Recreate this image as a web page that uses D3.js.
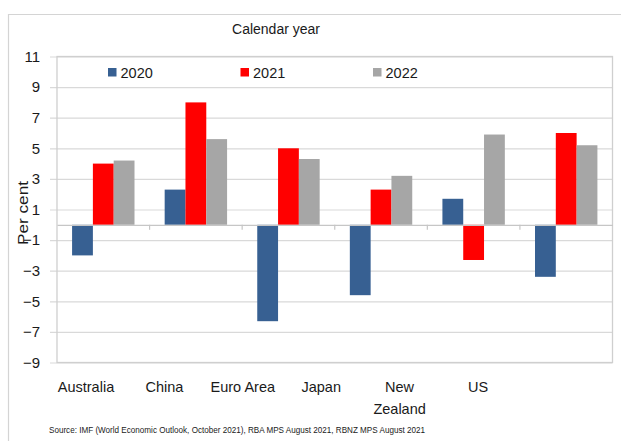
<!DOCTYPE html>
<html>
<head>
<meta charset="utf-8">
<script src="https://cdn.jsdelivr.net/npm/d3@7"></script>
<style>
  html, body { margin: 0; padding: 0; background: #fff; }
  svg text { font-family: "Liberation Sans", "DejaVu Sans", sans-serif; fill: #1a1a1a; }
</style>
</head>
<body>
<svg id="chart" width="621" height="441"></svg>
<script>
// GDP growth by economy, per cent, calendar years
const categories = ["Australia", "China", "Euro Area", "Japan", "New Zealand", "US"];
const seriesNames = ["2020", "2021", "2022"];
const values2020 = [-2.0, 2.3, -6.3, -4.6, 1.7, -3.4];
const values2021 = [4.0, 8.0, 5.0, 2.3, -2.3, 6.0];
const values2022 = [4.2, 5.6, 4.3, 3.2, 5.9, 5.2];
const yTicks = [11, 9, 7, 5, 3, 1, -1, -3, -5, -7, -9];
const seriesColors = ["#376092", "#ff0000", "#a6a6a6"];
const sourceNote = "Source: IMF (World Economic Outlook,  October 2021), RBA MPS  August 2021, RBNZ MPS August 2021";

const seriesValues = [values2020, values2021, values2022];
const rows = categories.map((c, i) => ({
  category: c,
  bars: seriesNames.map((s, j) => ({ series: s, value: seriesValues[j][i], color: seriesColors[j] }))
}));

const svg = d3.select("#chart");
const plot = { left: 57, right: 612.5, top: 56.5, bottom: 362.5 };

// outer frame
svg.append("path")
  .attr("d", "M8.5,441 V14.5 H621")
  .attr("fill", "none").attr("stroke", "#d4d4d4").attr("stroke-width", 1.2);

const y = d3.scaleLinear().domain([-9, 11]).range([plot.bottom, plot.top]);
const x0 = d3.scaleBand().domain(categories).range([plot.left, plot.right]).paddingInner(0).paddingOuter(0);
const x1 = d3.scaleBand().domain(seriesNames).range([0, x0.bandwidth()]).paddingInner(0).paddingOuter(0.725);

// gridlines with outward tick stubs on the value axis
const yAxis = d3.axisLeft(y).tickValues(yTicks).tickSizeInner(-(plot.right - plot.left)).tickSizeOuter(0).tickFormat("");
const gy = svg.append("g").attr("transform", `translate(${plot.left},0)`).call(yAxis);
gy.select(".domain").remove();
gy.selectAll(".tick line").attr("x1", -7).attr("stroke", "#d9d9d9").attr("stroke-width", 1.2);

svg.append("g").selectAll("text").data(yTicks).join("text")
  .attr("x", 40).attr("y", d => y(d)).attr("dy", "0.35em")
  .attr("text-anchor", "end").attr("font-size", 15).text(d => d3.format("d")(d));

// plot border
svg.append("rect")
  .attr("x", plot.left).attr("y", plot.top)
  .attr("width", plot.right - plot.left).attr("height", plot.bottom - plot.top)
  .attr("fill", "none").attr("stroke", "#cfcfcf").attr("stroke-width", 1.3);

// bars
const groups = svg.append("g").selectAll("g").data(rows).join("g")
  .attr("transform", d => `translate(${x0(d.category)},0)`);
groups.selectAll("rect").data(d => d.bars).join("rect")
  .attr("x", d => x1(d.series))
  .attr("width", x1.bandwidth())
  .attr("y", d => y(Math.max(0, d.value)))
  .attr("height", d => Math.abs(y(d.value) - y(0)))
  .attr("fill", d => d.color);

// category axis at zero
const xAxis = d3.axisBottom(x0).tickSize(0).tickFormat("");
const gx = svg.append("g").attr("transform", `translate(0,${y(0)})`).call(xAxis);
gx.select(".domain").attr("stroke", "#c6c6c6").attr("stroke-width", 1.2);
gx.selectAll(".tick").remove();
gx.selectAll("line.sep").data(categories.slice(1)).join("line")
  .attr("class", "sep")
  .attr("x1", d => x0(d)).attr("x2", d => x0(d))
  .attr("y1", 0).attr("y2", 5)
  .attr("stroke", "#c6c6c6").attr("stroke-width", 1.2);

// category labels
const xLabel = d3.scalePoint().domain(categories).range([86, 478]);
const labels = svg.append("g").selectAll("text").data(categories).join("text")
  .attr("x", d => xLabel(d)).attr("y", 392)
  .attr("text-anchor", "middle").attr("font-size", 14.5);
labels.each(function(d) {
  const words = d === "New Zealand" ? ["New", "Zealand"] : [d];
  d3.select(this).selectAll("tspan").data(words).join("tspan")
    .attr("x", xLabel(d)).attr("dy", (w, i) => i === 0 ? 0 : 22).text(w => w);
});

// legend
const legendX = d3.scalePoint().domain(seriesNames).range([108, 373]);
const legend = svg.append("g").selectAll("g").data(seriesNames).join("g")
  .attr("transform", d => `translate(${legendX(d)},0)`);
legend.append("rect").attr("x", 0).attr("y", 68).attr("width", 8.5).attr("height", 8.5)
  .attr("fill", (d, i) => seriesColors[i]);
legend.append("text").attr("x", 12.5).attr("y", 78).attr("font-size", 14.5).text(d => d);

// title
svg.append("text").attr("x", 276).attr("y", 34).attr("text-anchor", "middle")
  .attr("font-size", 14).text("Calendar year");

// y-axis title
svg.append("text")
  .attr("transform", "translate(28,213) rotate(-90)")
  .attr("text-anchor", "middle").attr("font-size", 15)
  .attr("textLength", 64).attr("lengthAdjust", "spacingAndGlyphs")
  .text("Per cent");

// source note
svg.append("text").attr("x", 49).attr("y", 433).attr("font-size", 8.5)
  .attr("textLength", 376).attr("lengthAdjust", "spacingAndGlyphs")
  .text(sourceNote);
</script>
</body>
</html>
